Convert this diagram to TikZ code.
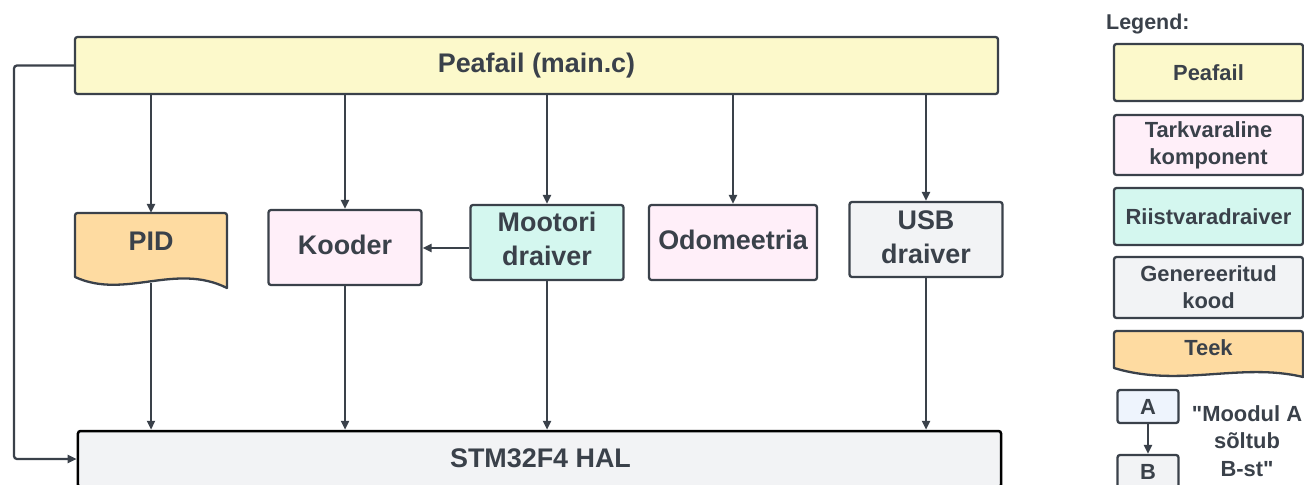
\documentclass[tikz,border=0pt]{standalone}
\usepackage{fontspec}
\setmainfont{Liberation Sans}[Ligatures=TeXOff]
\usetikzlibrary{arrows.meta}
\definecolor{ink}{HTML}{3A414A}
\definecolor{fmain}{HTML}{FCF9CB}
\definecolor{fsoft}{HTML}{FFEFF9}
\definecolor{fhw}{HTML}{D4F7EF}
\definecolor{fgen}{HTML}{F2F3F5}
\definecolor{flib}{HTML}{FEDBA1}
\definecolor{fdemo}{HTML}{EEF4FD}
\tikzset{
  box/.style={draw=ink, line width=2.3bp, rounded corners=2.5bp, inner sep=0pt,
              text=ink, align=center, font=\bfseries\fontsize{27}{34}\selectfont},
  lbox/.style={box, minimum width=189bp, font=\bfseries\fontsize{22}{27}\selectfont},
  txt/.style={text=ink, inner sep=0pt, align=center},
  bigtxt/.style={txt, font=\bfseries\fontsize{27}{34}\selectfont},
  arr/.style={draw=ink, line width=2.3bp, -{Triangle[length=9bp,width=8bp]}},
  docshape/.style={draw=ink, fill=flib, line width=2.3bp, line join=round},
}
\begin{document}
\begin{tikzpicture}[x=1bp,y=-1bp]
\useasboundingbox (0,0) rectangle (1304,485);

% main file and HAL layer
\node[box, fill=fmain, minimum width=923bp, minimum height=57bp] (main) at (536.5,65.5) {Peafail (main.c)};
\node[box, fill=fgen, draw=black, line width=2.5bp, minimum width=923bp, minimum height=56bp] (hal) at (539.5,459) {};
\node[bigtxt] (haltxt) at (540.5,458) {STM32F4 HAL};

% modules
\node[minimum width=152bp, minimum height=70bp, inner sep=0pt] (pid) at (151,248) {};
\node[box, fill=fsoft, minimum width=153bp, minimum height=75bp, text depth=6bp] (kooder) at (345,247.5) {Kooder};
\node[box, fill=fhw, minimum width=153bp, minimum height=75bp] (moot) at (547,242.5) {};
\node[bigtxt] (moottxt) at (547,239) {Mootori\\draiver};
\node[box, fill=fsoft, minimum width=168bp, minimum height=75bp, text depth=6bp] (odo) at (733,242.5) {Odomeetria};
\node[box, fill=fgen, minimum width=153bp, minimum height=75bp] (usb) at (926,239.5) {};
\node[bigtxt] (usbtxt) at (926,237) {USB\\draiver};

% dependencies
\coordinate (lc) at (14,0);
\draw[arr, rounded corners=3bp] (main.west) -- (main.west -| lc) |- (hal.west);
\foreach \n in {pid,kooder,moot,odo,usb}
  \draw[arr] (main.south -| \n.north) -- (\n.north);
\foreach \n in {pid,kooder,moot,usb}
  \draw[arr] (\n.south) -- (\n.south |- hal.north);
\draw[arr] ([yshift=-5.5bp]moot.west) -- ([yshift=-5.5bp]moot.west -| kooder.east);

% library (document shape with wavy bottom)
\draw[docshape]
  (75,277) [rounded corners=2.5bp] -- (75,213) -- (227,213) [sharp corners] -- (227,288)
  .. controls (175,262) and (125,300) .. (75,277) -- cycle;
\node[bigtxt] (pidtxt) at (151,241) {PID};

% legend
\node[txt, anchor=west, font=\bfseries\fontsize{21.5}{26}\selectfont] (legtitle) at (1106,24) {Legend:};
\node[lbox, fill=fmain, minimum height=57bp] (lmain) at (1208.5,72.5) {Peafail};
\node[lbox, fill=fsoft, minimum height=60bp] (lsoft) at (1208.5,145) {Tarkvaraline\\komponent};
\node[lbox, fill=fhw, minimum height=57bp] (lhw) at (1208.5,216.5) {Riistvaradraiver};
\node[lbox, fill=fgen, minimum height=61bp] (lgen) at (1208.5,287.5) {Genereeritud\\kood};
\draw[docshape]
  (1114,368) [rounded corners=2.5bp] -- (1114,331) -- (1303,331) [sharp corners] -- (1303,377)
  .. controls (1240,362) and (1180,388) .. (1114,368) -- cycle;
\node[txt, font=\bfseries\fontsize{22}{27}\selectfont] (llib) at (1208.5,348) {Teek};

\node[box, fill=fdemo, minimum width=61bp, minimum height=33bp, font=\bfseries\fontsize{22}{27}\selectfont] (la) at (1148,406.5) {A};
\node[box, fill=fgen, minimum width=61bp, minimum height=33bp, font=\bfseries\fontsize{22}{27}\selectfont] (lb) at (1148,471.5) {B};
\draw[arr] (la.south) -- (lb.north);
\node[txt, font=\bfseries\fontsize{22}{27.5}\selectfont] (lnote) at (1247,441) {"Moodul A\\sõltub\\B-st"};
\end{tikzpicture}
\end{document}
